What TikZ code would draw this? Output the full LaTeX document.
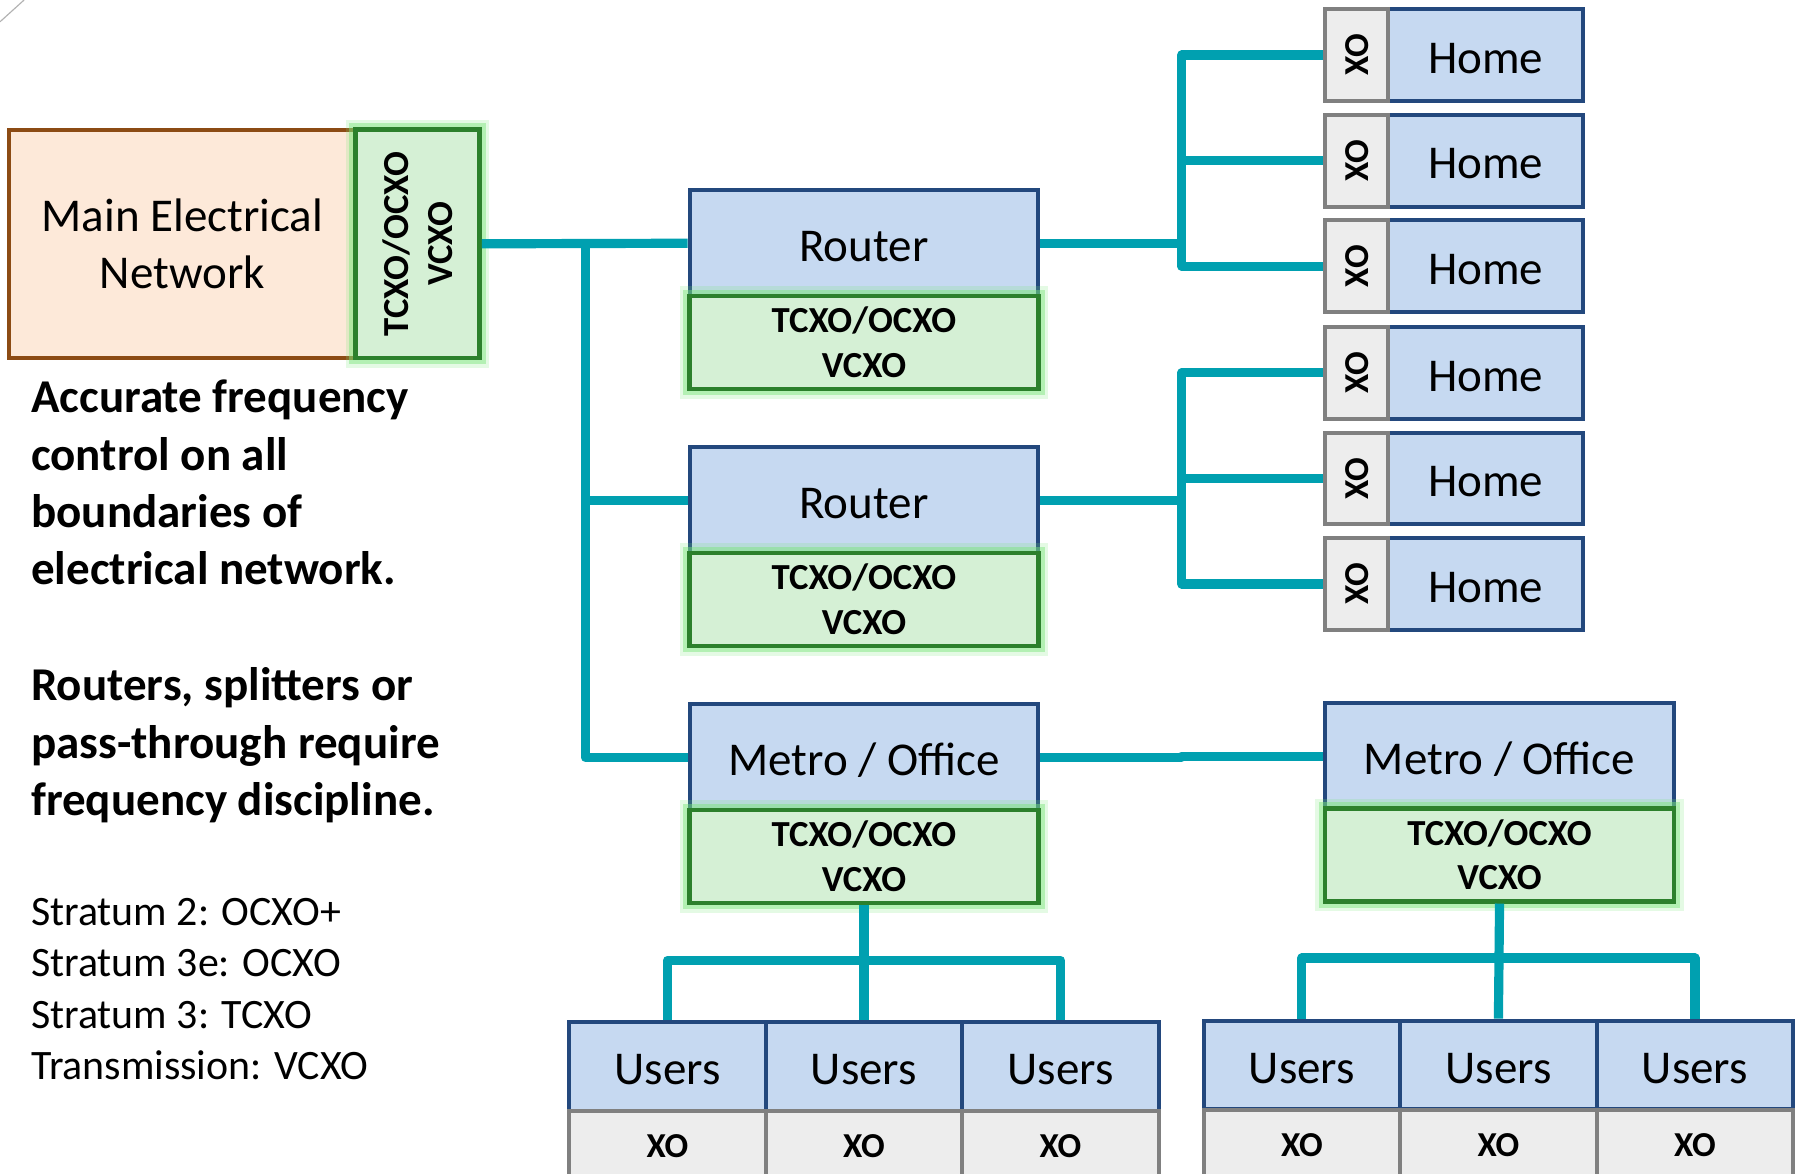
\documentclass[tikz,border=0pt]{standalone}
\usepackage{fontspec}
\setmainfont{Carlito}
\definecolor{teal1}{RGB}{0,160,176}
\definecolor{bluefill}{RGB}{198,217,241}
\definecolor{blueline}{RGB}{35,72,125}
\definecolor{greenfill}{RGB}{213,240,213}
\definecolor{greenline}{RGB}{44,128,44}
\definecolor{glowc}{RGB}{120,230,120}
\definecolor{peachfill}{RGB}{253,233,217}
\definecolor{peachline}{RGB}{140,75,20}
\definecolor{xofill}{RGB}{237,237,237}
\definecolor{xoline}{RGB}{128,128,128}
\tikzset{
  box/.style={rectangle, inner sep=0pt, line width=3.5pt},
  bluebox/.style={box, fill=bluefill, draw=blueline, text height=32pt, text depth=0pt, font=\fontsize{41pt}{50pt}\selectfont},
  peachbox/.style={box, fill=peachfill, draw=peachline, align=center, font=\fontsize{41pt}{50pt}\selectfont},
  greenbox/.style={box, fill=greenfill, draw=greenline, line width=4pt, align=center,
    font=\bfseries\fontsize{32pt}{39pt}\selectfont,
    preaction={draw=glowc, line width=17pt, opacity=0.2},
    preaction={draw=glowc, line width=11pt, opacity=0.45}},
  xobox/.style={box, fill=xofill, draw=xoline, font=\bfseries\fontsize{30.5pt}{36pt}\selectfont},
  xotext/.style={inner sep=0pt, rotate=90, font=\bfseries\fontsize{30.5pt}{36pt}\selectfont},
  gtext/.style={inner sep=0pt, rotate=90, align=center, font=\bfseries\fontsize{32pt}{39pt}\selectfont},
  lefttext/.style={align=left, anchor=north west, inner sep=0pt, font=\bfseries\fontsize{41pt}{50pt}\selectfont},
  stratext/.style={align=left, anchor=north west, inner sep=0pt, font=\fontsize{36.5pt}{44.6pt}\selectfont},
  conn/.style={draw=teal1, line width=8pt, line join=round},
  routerw/.style={minimum width=304pt, minimum height=92pt},
  greenw/.style={minimum width=304pt, minimum height=81pt},
  homew/.style={minimum width=170pt, minimum height=80pt},
  xow/.style={minimum width=55pt, minimum height=80pt},
  userw/.style={minimum width=171.3pt, minimum height=77pt},
  uxow/.style={minimum width=171.3pt, minimum height=62pt}
}
\begin{document}
\begin{tikzpicture}[x=1pt, y=-1pt]
\useasboundingbox (0,0) rectangle (1568,1023);
\clip (0,0) rectangle (1568,1023);
\fill[white] (0,0) rectangle (1568,1023);
\draw[gray!60, line width=1pt] (0,19) -- (21,0);

% main network
\node[peachbox, minimum width=302pt, minimum height=199pt] (main) at (159,212.5) {Main Electrical\\Network};
\node[greenbox, minimum width=108pt, minimum height=199pt] (mainx) at (364,212.5) {};
\node[gtext] (mainxt) at (mainx.center) {TCXO/OCXO\\VCXO};

% left texts
\node[lefttext] (t1) at (27,331) {Accurate frequency\\control on all\\boundaries of\\electrical network.};
\node[lefttext] (t2) at (27,582) {Routers, splitters or\\pass-through require\\frequency discipline.};
\node[stratext] (t3) at (27,783) {Stratum 2: OCXO+\\Stratum 3e: OCXO\\Stratum 3: TCXO\\Transmission: VCXO};

% routers and metro
\node[bluebox, routerw] (r1) at (753,212) {Router};
\node[greenbox, greenw] (r1x) at (753,298.5) {TCXO/OCXO\\VCXO};
\node[bluebox, routerw] (r2) at (753,436) {Router};
\node[greenbox, greenw] (r2x) at (753,522.5) {TCXO/OCXO\\VCXO};
\node[bluebox, routerw] (m1) at (753,660) {Metro / Office};
\node[greenbox, greenw] (m1x) at (753,746.5) {TCXO/OCXO\\VCXO};
\node[bluebox, routerw] (m2) at (1307,659) {Metro / Office};
\node[greenbox, greenw] (m2x) at (1307,745) {TCXO/OCXO\\VCXO};

% homes
\foreach \i/\y in {1/48,2/140,3/232,4/325,5/417,6/509}{
  \node[bluebox, homew] (h\i) at (1295,\y) {Home};
  \node[xobox, xow] (x\i) at (1182.5,\y) {};
  \node[xotext] (x\i t) at (x\i.center) {XO};
}

% users
\foreach \i/\x in {1/581.7,2/753,3/924.3}{
  \node[bluebox, userw] (u\i) at (\x,929.5) {Users};
  \node[xobox, uxow] (ux\i) at (\x,999) {XO};
}
\foreach \i/\x in {4/1134.7,5/1306,6/1477.3}{
  \node[bluebox, userw] (u\i) at (\x,928) {Users};
  \node[xobox, uxow] (ux\i) at (\x,998.5) {XO};
}

% junctions
\coordinate (j1) at (510,212.5);
\coordinate (j2) at (1030,212);
\coordinate (j3) at (1030,436);
\coordinate (j4) at (1030,660);
\coordinate (j5) at (753,837);
\coordinate (j6) at (1306,835);

% connectors
\draw[conn] (mainx.east) -- (r1.west);
\draw[conn] (j1) |- (m1.west);
\draw[conn] (j1 |- r2.west) -- (r2.west);

\draw[conn] (r1.east) -- (j2);
\draw[conn] (x1.west) -- (x1.west -| j2) -- (x3.west -| j2) -- (x3.west);
\draw[conn] (x2.west -| j2) -- (x2.west);

\draw[conn] (r2.east) -- (j3);
\draw[conn] (x4.west) -- (x4.west -| j3) -- (x6.west -| j3) -- (x6.west);
\draw[conn] (x5.west -| j3) -- (x5.west);

\draw[conn] (m1.east) -- (j4) |- (m2.west);

\draw[conn] (m1x.south) -- (u2.north);
\draw[conn] (u1.north) |- (j5) -| (u3.north);
\draw[conn] (m2x.south) -- (u5.north);
\draw[conn] (u4.north) |- (j6) -| (u6.north);
\end{tikzpicture}
\end{document}
